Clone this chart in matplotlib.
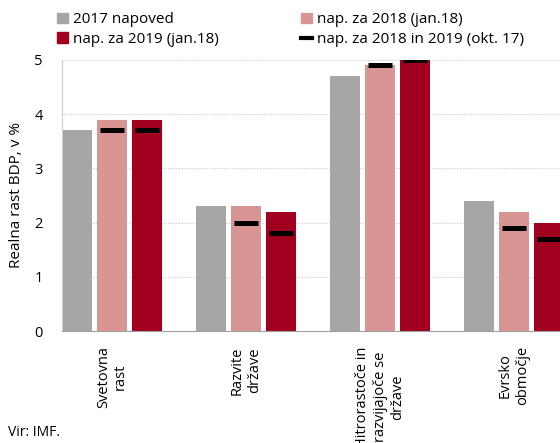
import numpy as np
import matplotlib
matplotlib.use("Agg")
import matplotlib.pyplot as plt
from matplotlib.patches import Patch
from matplotlib.lines import Line2D

plt.rcParams["font.family"] = ["Open Sans", "DejaVu Sans"]

categories = ["Svetovna\nrast", "Razvite\ndržave",
              "Hitrorastoče in\nrazvijajoče se\ndržave", "Evrsko\nobmočje"]
napoved_2017 = [3.7, 2.3, 4.7, 2.4]
napoved_2018 = [3.9, 2.3, 4.9, 2.2]
napoved_2019 = [3.9, 2.2, 5.0, 2.0]
okt17_2018 = [3.7, 2.0, 4.9, 1.9]
okt17_2019 = [3.7, 1.8, 5.0, 1.7]

c_gray = "#A6A6A6"
c_pink = "#D99594"
c_red = "#A0001E"

fig = plt.figure(figsize=(5.6, 4.43), dpi=100)
ax = fig.add_axes([0.1107, 0.2528, 0.8893, 0.6118])

x = np.arange(len(categories))
w = 0.224
step = 0.261
ax.bar(x - step, napoved_2017, w, color=c_gray, zorder=2)
ax.bar(x, napoved_2018, w, color=c_pink, zorder=2)
ax.bar(x + step, napoved_2019, w, color=c_red, zorder=2)
ax.plot(x, okt17_2018, ls="none", marker="_", ms=17, mew=3.6, color="black", zorder=3)
ax.plot(x + step, okt17_2019, ls="none", marker="_", ms=17, mew=3.6, color="black", zorder=3)

ax.set_xlim(-0.373, 3.343)
ax.set_ylim(0, 5)
ax.set_yticks([0, 1, 2, 3, 4, 5])
ax.yaxis.grid(True, ls=(0, (1, 1.5)), color="#C8C8C8", lw=0.8, zorder=0)
ax.set_axisbelow(True)
ax.tick_params(axis="y", length=0, labelsize=10.5, pad=14)
ax.set_xticks(x)
ax.set_xticklabels(categories, rotation=90, va="top", ha="center", fontsize=10.5)
ax.tick_params(axis="x", length=0, pad=11)
for s in ["top", "right"]:
    ax.spines[s].set_visible(False)
ax.spines["left"].set_color("#D0D0D0")
ax.spines["bottom"].set_color("#A0A0A0")
ax.set_ylabel("Realna rast BDP, v %", fontsize=11, labelpad=7)

handles = [Patch(color=c_gray), Patch(color=c_red), Patch(color=c_pink),
           Line2D([], [], color="black", lw=3)]
labels = ["2017 napoved", "nap. za 2019 (jan.18)", "nap. za 2018 (jan.18)",
          "nap. za 2018 in 2019 (okt. 17)"]
fig.legend(handles, labels, ncol=2, loc="upper left", bbox_to_anchor=(0.077, 1.003),
           frameon=False, fontsize=11, handlelength=0.7, handleheight=0.7,
           handletextpad=0.35, columnspacing=5.4, labelspacing=0.3)

fig.text(0.015, 0.015, "Vir: IMF.", fontsize=10)

fig.savefig("out.png", dpi=100)
